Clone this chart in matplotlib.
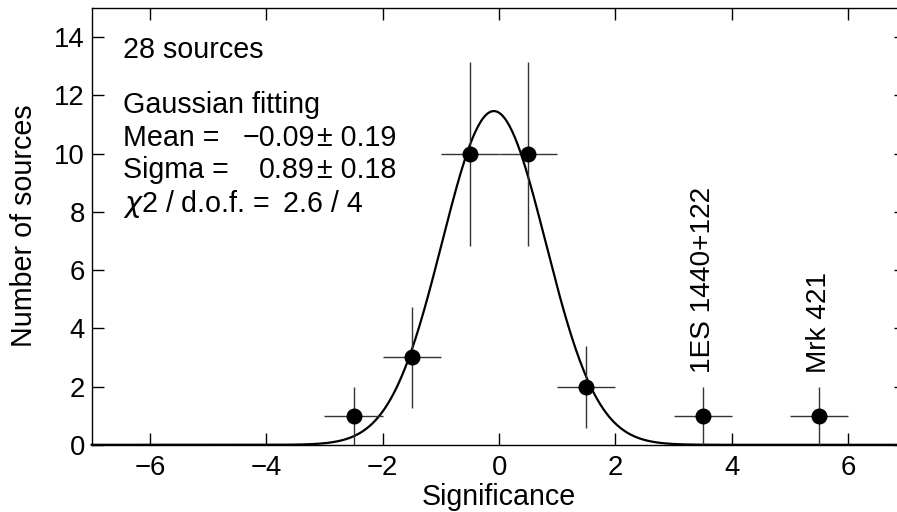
import numpy as np
import matplotlib
matplotlib.use("Agg")
import matplotlib.pyplot as plt

# binned significance distribution
sig_bins = [-2.5, -1.5, -0.5, 0.5, 1.5, 3.5, 5.5]
n_sources = [1, 3, 10, 10, 2, 1, 1]
n_err = [1.0, 1.73, 3.16, 3.16, 1.41, 1.0, 1.0]
bin_half = [0.5, 0.5, 0.5, 0.5, 0.5, 0.5, 0.5]

# gaussian fit result
fit_amp = 11.46
fit_mean = -0.09
fit_sigma = 0.89

# labelled outliers
outlier_x = [3.5, 5.5]
outlier_names = ["1ES 1440+122", "Mrk 421"]

x_ticks = [-6, -4, -2, 0, 2, 4, 6]
y_ticks = [0, 2, 4, 6, 8, 10, 12, 14]

plt.rcParams["font.family"] = ["Liberation Sans", "DejaVu Sans"]

W, H = 897, 512
fig = plt.figure(figsize=(W / 100, H / 100), dpi=100)
# axes box in pixels: left 91.7, right 906.5 (cut by image edge), top 8, bottom 444.8
ax = fig.add_axes([91.7 / W, (H - 444.8) / H, 814.8 / W, 436.8 / H])

xs = np.linspace(-7, 7, 600)
ax.plot(xs, fit_amp * np.exp(-(xs - fit_mean) ** 2 / (2 * fit_sigma ** 2)),
        color="black", lw=1.6, clip_on=False, zorder=3)

ax.errorbar(sig_bins, n_sources, xerr=bin_half, yerr=n_err, fmt="o",
            color="black", ecolor="#333333", elinewidth=1.0, capsize=0,
            markersize=10.5, zorder=4, clip_on=True)

ax.set_xlim(-7, 7)
ax.set_ylim(0, 15)
ax.set_xticks(x_ticks)
ax.set_yticks(y_ticks)
ax.tick_params(direction="in", length=8.5, width=1.0, top=True, right=True,
               labelsize=19.8)
ax.tick_params(axis="x", pad=7)
ax.tick_params(axis="y", pad=5)
for s in ax.spines.values():
    s.set_linewidth(1.0)

# annotation block
fs = 20.6
lx = -6.467
ax.text(lx, 13.29, "28 sources", fontsize=fs, va="baseline", ha="left")
ax.text(lx, 11.39, "Gaussian fitting", fontsize=fs, va="baseline", ha="left")
ax.text(lx, 10.26, "Mean =", fontsize=fs, va="baseline", ha="left")
ax.text(lx, 9.15, "Sigma =", fontsize=fs, va="baseline", ha="left")
ax.text(lx, 8.0, r"$\chi$2 / d.o.f. =", fontsize=fs, va="baseline", ha="left")
ax.text(-3.163, 10.26, "\u22120.09", fontsize=fs, va="baseline", ha="right")
ax.text(-3.134, 10.26, "\u00b1 0.19", fontsize=fs, va="baseline", ha="left")
ax.text(-3.163, 9.15, "0.89", fontsize=fs, va="baseline", ha="right")
ax.text(-3.134, 9.15, "\u00b1 0.18", fontsize=fs, va="baseline", ha="left")
ax.text(-3.708, 8.0, "2.6 / 4", fontsize=fs, va="baseline", ha="left")

for x, name in zip(outlier_x, outlier_names):
    ax.text(x, 2.45, name, fontsize=20.2, rotation=90, ha="center", va="bottom")

fig.text(499 / W, (H - 505) / H, "Significance", fontsize=fs,
         ha="center", va="baseline")
fig.text(24 / W, (H - 226) / H, "Number of sources", fontsize=fs,
         rotation=90, ha="center", va="center")

fig.savefig("out.png", dpi=100)
